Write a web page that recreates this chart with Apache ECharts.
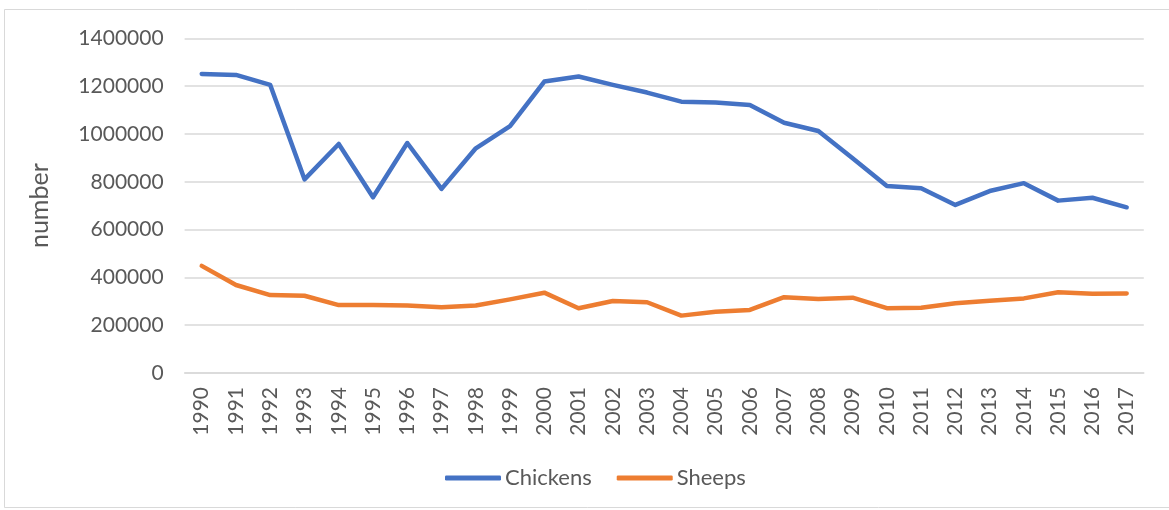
<!DOCTYPE html>
<html>
<head>
<meta charset="utf-8">
<script src="https://cdn.jsdelivr.net/npm/echarts@6/dist/echarts.min.js"></script>
<style>
html,body{margin:0;padding:0;background:#fff;}
#c{width:1169px;height:510px;}
</style>
</head>
<body>
<div id="c"></div>
<script>
const years = ['1990','1991','1992','1993','1994','1995','1996','1997','1998','1999','2000','2001','2002','2003','2004','2005','2006','2007','2008','2009','2010','2011','2012','2013','2014','2015','2016','2017'];
const chickens = [1251000,1247000,1205000,810000,958000,735000,962000,770000,940000,1033000,1219000,1240000,1205000,1173000,1135000,1131000,1121000,1047000,1012000,898000,782000,773000,703000,761000,794000,721000,733000,693000];
const sheeps = [448000,368000,326000,323000,284000,284000,282000,275000,282000,308000,336000,271000,301000,296000,240000,256000,264000,317000,310000,315000,271000,273000,292000,302000,312000,338000,332000,333000];
const yTicks = {min:0, max:1400000, interval:200000};

const font = 'Lato, "Open Sans", sans-serif';
const txt = '#595959';
const chart = echarts.init(document.getElementById('c'));
chart.setOption({
  animation:false,
  backgroundColor:'#fff',
  graphic:[{type:'rect',shape:{x:4.5,y:9.5,width:1180,height:498},style:{fill:'none',stroke:'#D9D9D9',lineWidth:1},silent:true,z:-1}],
  grid:{left:184.6,right:25.2,top:38.3,bottom:137},
  legend:{
    bottom:16, left:440,
    itemWidth:56, itemHeight:5, itemGap:25,
    icon:'roundRect',
    textStyle:{fontFamily:font,fontSize:22,color:txt,padding:[0,0,0,-1]},
    data:['Chickens','Sheeps']
  },
  xAxis:{
    type:'category', data:years, boundaryGap:true,
    axisLine:{lineStyle:{color:'#D9D9D9',width:1.5}},
    axisTick:{show:false},
    axisLabel:{rotate:90,interval:0,margin:14,fontFamily:font,fontSize:21,color:txt}
  },
  yAxis:{
    type:'value', min:yTicks.min, max:yTicks.max, interval:yTicks.interval,
    name:'number', nameLocation:'middle', nameGap:132, nameRotate:90,
    nameTextStyle:{fontFamily:font,fontSize:25,color:txt},
    axisLine:{show:false}, axisTick:{show:false},
    axisLabel:{margin:21,fontFamily:font,fontSize:21,color:txt,formatter:function(v){return String(v);}},
    splitLine:{lineStyle:{color:'#D9D9D9',width:1.5}}
  },
  series:[
    {name:'Chickens',type:'line',data:chickens,symbol:'none',lineStyle:{color:'#4472C4',width:4.5,cap:'round',join:'round'},itemStyle:{color:'#4472C4'}},
    {name:'Sheeps',type:'line',data:sheeps,symbol:'none',lineStyle:{color:'#ED7D31',width:4.5,cap:'round',join:'round'},itemStyle:{color:'#ED7D31'}}
  ]
});
</script>
</body>
</html>
